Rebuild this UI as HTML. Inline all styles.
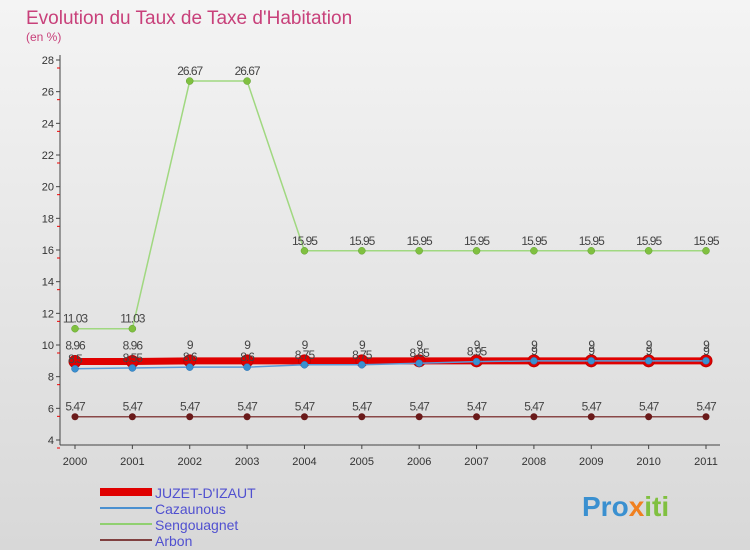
<!DOCTYPE html>
<html><head><meta charset="utf-8"><style>
body{margin:0;width:750px;height:550px;overflow:hidden;font-family:"Liberation Sans",sans-serif}
svg text{font-family:"Liberation Sans",sans-serif}
</style></head><body>
<svg id="c" width="750" height="550">
<defs><linearGradient id="bg" x1="0" y1="0" x2="0" y2="1"><stop offset="0" stop-color="#f4f4f4"/><stop offset="1" stop-color="#d8d8d8"/></linearGradient></defs>
<rect width="750" height="550" fill="url(#bg)"/>
<text x="26" y="24" font-size="19" fill="#c8407a">Evolution du Taux de Taxe d'Habitation</text>
<text x="26" y="41" font-size="12" fill="#c8407a">(en %)</text>
<g id="axes"></g><g id="series"></g>
<g>
<rect x="100" y="488" width="52" height="8" fill="#e00000"/>
<text x="155" y="498" font-size="14" fill="#5050d0">JUZET-D'IZAUT</text>
<line x1="100" y1="508" x2="152" y2="508" stroke="#4a90d0" stroke-width="2"/>
<text x="155" y="514" font-size="14" fill="#5050d0">Cazaunous</text>
<line x1="100" y1="524" x2="152" y2="524" stroke="#90d070" stroke-width="2"/>
<text x="155" y="530" font-size="14" fill="#5050d0">Sengouagnet</text>
<line x1="100" y1="540" x2="152" y2="540" stroke="#804040" stroke-width="2"/>
<text x="155" y="546" font-size="14" fill="#5050d0">Arbon</text>
</g>
<text x="582" y="516" font-size="28" font-weight="bold" fill="#3a90d0">Pro<tspan fill="#f08020">x</tspan><tspan fill="#80c040">iti</tspan></text>
</svg>
<script>
const years=[2000,2001,2002,2003,2004,2005,2006,2007,2008,2009,2010,2011];
const yTicks=[4,6,8,10,12,14,16,18,20,22,24,26,28];
const juzet=[8.96,8.96,9,9,9,9,9,9,9,9,9,9];
const cazaunous=[8.5,8.55,8.6,8.6,8.75,8.75,8.85,8.95,9,9,9,9];
const sengouagnet=[11.03,11.03,26.67,26.67,15.95,15.95,15.95,15.95,15.95,15.95,15.95,15.95];
const arbon=[5.47,5.47,5.47,5.47,5.47,5.47,5.47,5.47,5.47,5.47,5.47,5.47];
const NS="http://www.w3.org/2000/svg";
const xs=i=>75+i*(706-75)/11, ys=v=>440-(v-4)*(380/24);
function mk(t,a,p){const e=document.createElementNS(NS,t);for(const k in a)e.setAttribute(k,a[k]);p.appendChild(e);return e;}
const ax=document.getElementById('axes');
let l=mk('line',{x1:60,y1:55,x2:60,y2:445,stroke:'#444'},ax);


l=mk('line',{x1:60,y1:445,x2:720,y2:445,stroke:'#444'},ax);


yTicks.forEach(v=>{const y=ys(v);
 mk('line',{x1:56,y1:y,x2:60,y2:y,stroke:'#444'},ax);
 mk('line',{x1:57,y1:y+8,x2:60,y2:y+8,stroke:'#e00'},ax);
 const t=mk('text',{x:54,y:y+4,'font-size':11,'text-anchor':'end',fill:'#333'},ax);t.textContent=v;
 
 });
years.forEach((yr,i)=>{const x=xs(i);
 mk('line',{x1:x,y1:445,x2:x,y2:449,stroke:'#444'},ax);
 const t=mk('text',{x:x,y:465,'font-size':11,'text-anchor':'middle',fill:'#333'},ax);t.textContent=yr;
 
 });
const sg=document.getElementById('series');
function draw(data,name,col,w,r,stroke,labOff){
 const g=mk('g',{},sg);
 
 
 mk('polyline',{points:data.map((v,i)=>xs(i)+','+ys(v)).join(' '),fill:'none',stroke:col,'stroke-width':w},g);
 data.forEach((v,i)=>{const c=mk('circle',{cx:xs(i),cy:ys(v),r:r,fill:stroke.f,stroke:stroke.s,'stroke-width':stroke.w},g);
  
  
  const t=mk('text',{x:xs(i),y:ys(v)+labOff,'font-size':12,'text-anchor':'middle',fill:'#444','letter-spacing':'-1'},g);t.textContent=v;
  
  });
}
draw(arbon,'arbon','#8a4848',1.5,3.5,{f:'#6a1a1a',s:'#6a1a1a',w:0},-6);
draw(sengouagnet,'sengouagnet','#a0d880',1.5,3.5,{f:'#80c040',s:'#60a030',w:0.5},-6);
draw(juzet,'juzet','#e00000',7,6,{f:'#e00000',s:'#c00000',w:1},-12);
draw(cazaunous,'cazaunous','#5a9ad8',1.5,3.5,{f:'#3a90d0',s:'#2a70b0',w:0.5},-6);
</script>
</body></html>
